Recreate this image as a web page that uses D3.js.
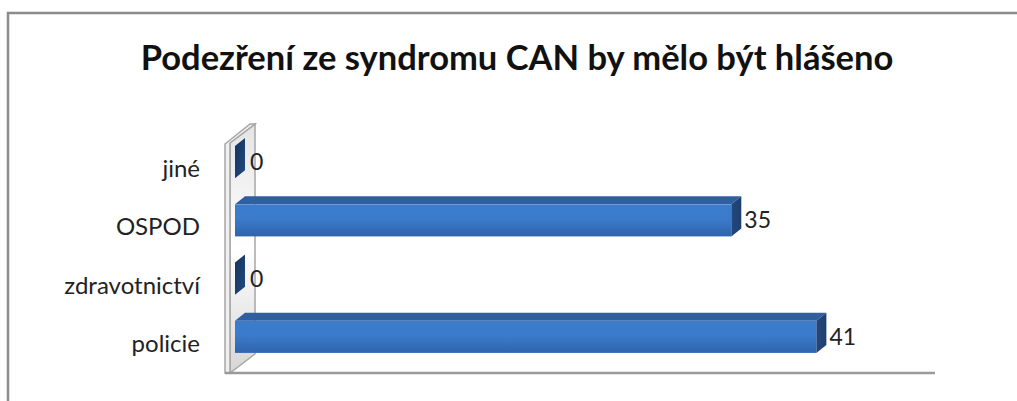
<!DOCTYPE html>
<html>
<head>
<meta charset="utf-8">
<script src="https://cdn.jsdelivr.net/npm/d3@7"></script>
<style>
  body { margin: 0; background: #fff; }
  svg { display: block; }
</style>
</head>
<body>
<script>
// categories from top to bottom, as in the picture
var categories = ["jiné", "OSPOD", "zdravotnictví", "policie"];
var values = [0, 35, 0, 41];
var title = "Podezření ze syndromu CAN by mělo být hlášeno";

var width = 1017;
var height = 401;

var svg = d3.select("body").append("svg")
    .attr("width", width)
    .attr("height", height);

var defs = svg.append("defs");

// front face of bars
var gFront = defs.append("linearGradient").attr("id", "gFront")
    .attr("x1", 0).attr("y1", 0).attr("x2", 0).attr("y2", 1);
gFront.append("stop").attr("offset", "0%").attr("stop-color", "#3c7ccb");
gFront.append("stop").attr("offset", "45%").attr("stop-color", "#3b7bcb");
gFront.append("stop").attr("offset", "100%").attr("stop-color", "#2e64ab");

var gSide = defs.append("linearGradient").attr("id", "gSide")
    .attr("x1", 0).attr("y1", 0).attr("x2", 1).attr("y2", 0);
gSide.append("stop").attr("offset", "0%").attr("stop-color", "#23487c");
gSide.append("stop").attr("offset", "100%").attr("stop-color", "#1f3f6e");

var gZero = defs.append("linearGradient").attr("id", "gZero")
    .attr("x1", 0).attr("y1", 0).attr("x2", 1).attr("y2", 1);
gZero.append("stop").attr("offset", "0%").attr("stop-color", "#16335c");
gZero.append("stop").attr("offset", "100%").attr("stop-color", "#224a80");

var gWall = defs.append("linearGradient").attr("id", "gWall")
    .attr("x1", 0).attr("y1", 0).attr("x2", 0).attr("y2", 1);
gWall.append("stop").attr("offset", "0%").attr("stop-color", "#e4e4e4");
gWall.append("stop").attr("offset", "50%").attr("stop-color", "#ffffff");
gWall.append("stop").attr("offset", "100%").attr("stop-color", "#d6d6d6");

// outer chart border
svg.append("path")
    .attr("d", "M8,401 L8,13 L1017,13")
    .attr("fill", "none")
    .attr("stroke", "#8c8c8c")
    .attr("stroke-width", 2.5);

// title
svg.append("text")
    .text(title)
    .attr("x", 517)
    .attr("y", 70)
    .attr("text-anchor", "middle")
    .style("font-family", "Lato, 'Open Sans', sans-serif")
    .style("font-weight", "bold")
    .style("font-size", "34.5px")
    .style("fill", "#111");

// scales (in the plane of the bars' front faces)
var x = d3.scaleLinear().domain([0, 50]).range([235, 944]);
var y = d3.scaleBand().domain(categories).range([133, 366]).paddingInner(0.45).paddingOuter(0.225);

// 3d depth of the bars and of the wall
var bdx = 10, bdy = -8;      // bar depth
var wdx = 25, wdy = -19;     // wall depth
var wx = 230, floorY = 373, wallTop = 143;

// back wall (side plane at value 0)
svg.append("polygon")
    .attr("points", [[wx, floorY], [wx, wallTop], [wx + wdx, wallTop + wdy], [wx + wdx, floorY + wdy]].join(" "))
    .attr("fill", "url(#gWall)")
    .attr("stroke", "#a6a6a6")
    .attr("stroke-width", 1.5);
// wall thickness
svg.append("polygon")
    .attr("points", [[wx - 5, floorY], [wx - 5, wallTop + 1], [wx + wdx - 5, wallTop + wdy], [wx + wdx, wallTop + wdy], [wx, wallTop], [wx, floorY]].join(" "))
    .attr("fill", "#efefef")
    .attr("stroke", "#a6a6a6")
    .attr("stroke-width", 1.5);

// floor
svg.append("line")
    .attr("x1", wx - 5)
    .attr("y1", floorY)
    .attr("x2", x(50) - 9)
    .attr("y2", floorY)
    .attr("stroke", "#9a9a9a")
    .attr("stroke-width", 2.5);

// bars
var bars = svg.selectAll(".bar")
    .data(categories.map(function(c, i) { return { cat: c, val: values[i] }; }))
    .enter().append("g")
    .attr("class", "bar");

bars.each(function(d) {
    var g = d3.select(this);
    var x0 = x(0), x1 = x(d.val);
    var y0 = y(d.cat), h = y.bandwidth();
    if (d.val > 0) {
        // top face
        g.append("polygon")
            .attr("points", [[x0, y0], [x0 + bdx, y0 + bdy], [x1 + bdx, y0 + bdy], [x1, y0]].join(" "))
            .attr("fill", "#2f5f9f");
        // front face
        g.append("rect")
            .attr("x", x0)
            .attr("y", y0)
            .attr("width", x1 - x0)
            .attr("height", h)
            .attr("fill", "url(#gFront)");
    }
    // right side face
    g.append("polygon")
        .attr("points", [[x1, y0], [x1 + bdx, y0 + bdy], [x1 + bdx, y0 + h + bdy], [x1, y0 + h]].join(" "))
        .attr("fill", d.val > 0 ? "url(#gSide)" : "url(#gZero)");
    // value label
    g.append("text")
        .text(d.val)
        .attr("x", x1 + bdx + (d.val > 0 ? 3 : 5))
        .attr("y", y0 + h / 2 + 8)
        .style("font-family", "Lato, 'Open Sans', sans-serif")
        .style("font-size", "23px")
        .style("fill", "#222");
});

// category labels
svg.selectAll(".cat")
    .data(categories)
    .enter().append("text")
    .attr("class", "cat")
    .text(function(d) { return d; })
    .attr("x", 200)
    .attr("y", function(d) { return y(d) + y.bandwidth() / 2 + 15; })
    .attr("text-anchor", "end")
    .style("font-family", "Lato, 'Open Sans', sans-serif")
    .style("font-size", "24px")
    .style("fill", "#222");
</script>
</body>
</html>
